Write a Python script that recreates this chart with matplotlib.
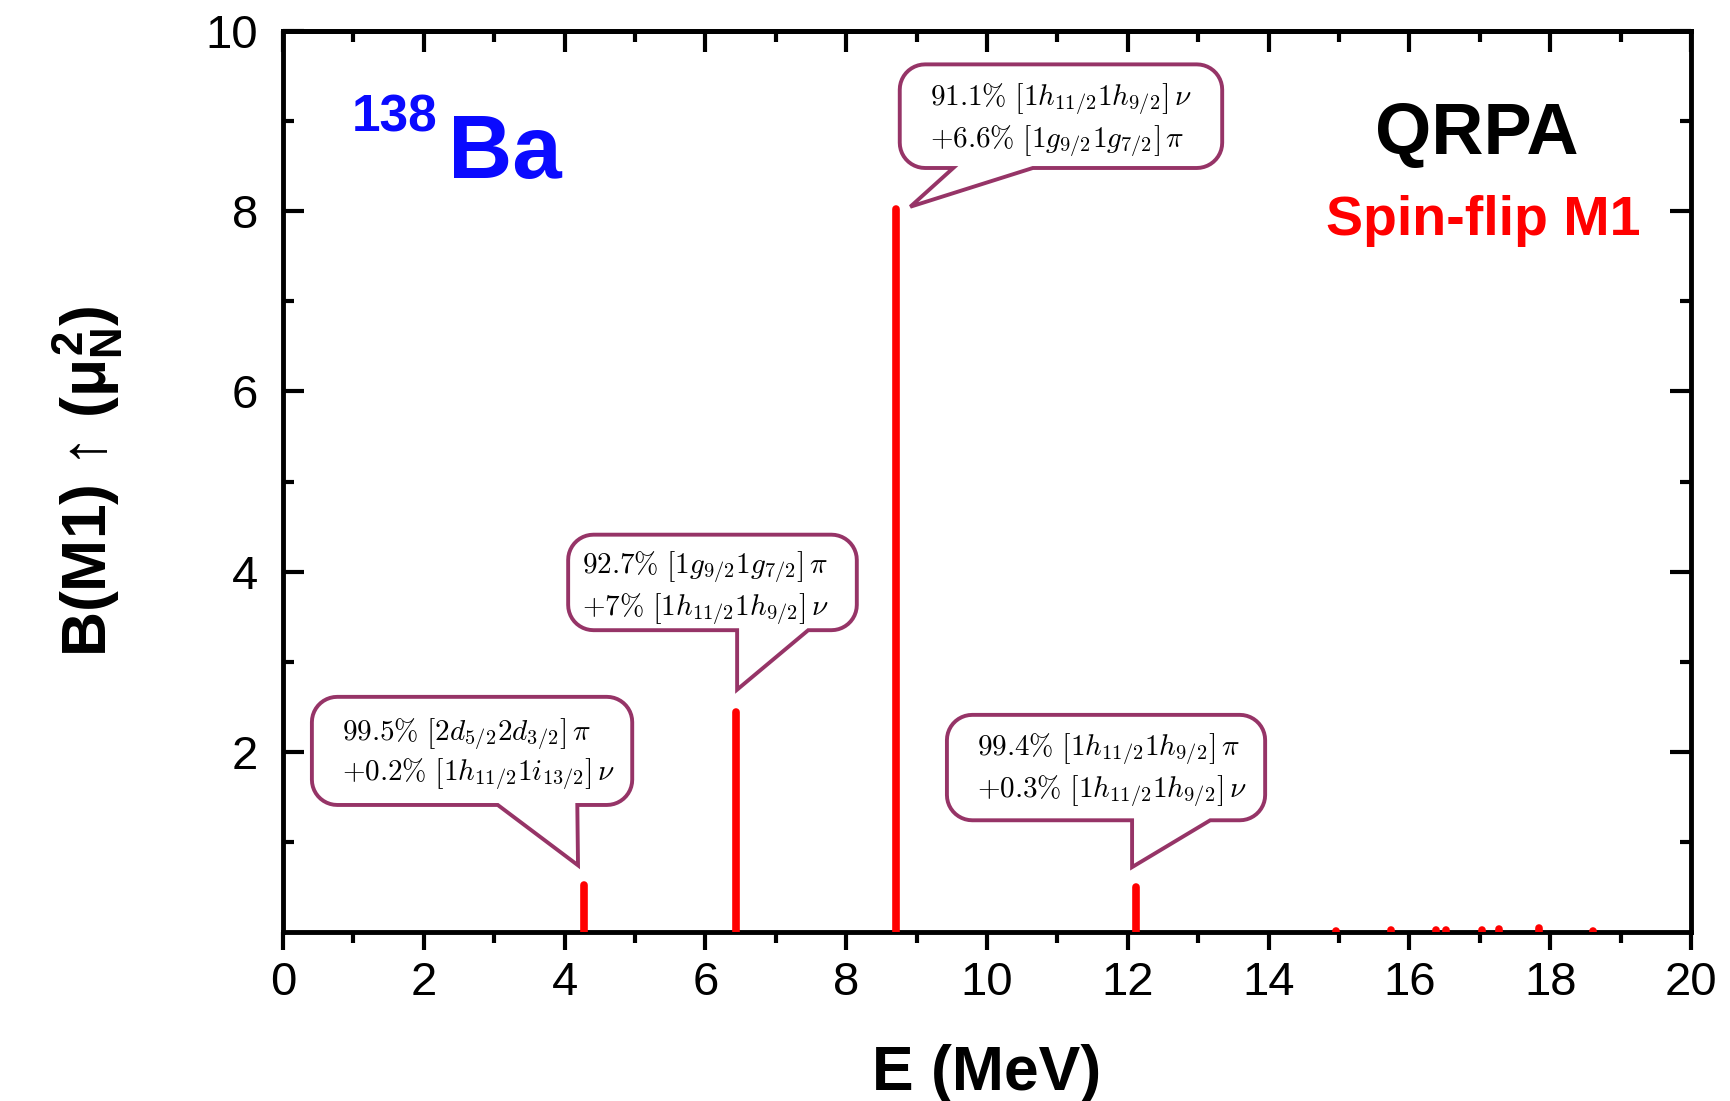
import numpy as np
import matplotlib
matplotlib.use('Agg')
import matplotlib.pyplot as plt
from matplotlib.patches import Polygon
from matplotlib.ticker import MultipleLocator, FixedLocator

# spin-flip M1 strength, 138Ba QRPA
energy = [4.27, 6.43, 8.70, 12.12, 14.96, 15.74, 16.38, 16.52, 17.03, 17.27, 17.84, 18.61]
strength = [0.52, 2.44, 8.03, 0.50, 0.015, 0.02, 0.02, 0.02, 0.02, 0.03, 0.04, 0.015]

x_ticks = [0, 2, 4, 6, 8, 10, 12, 14, 16, 18, 20]
y_ticks = [2, 4, 6, 8, 10]

callout_text = [
    (r'$\mathsf{91.1\%}\ \left[1h_{11/2}1h_{9/2}\right]\,\nu$',
     r'$\mathsf{+6.6\%}\ \left[1g_{9/2}1g_{7/2}\right]\,\pi$'),
    (r'$\mathsf{92.7\%}\ \left[1g_{9/2}1g_{7/2}\right]\,\pi$',
     r'$\mathsf{+7\%}\ \left[1h_{11/2}1h_{9/2}\right]\,\nu$'),
    (r'$\mathsf{99.5\%}\ \left[2d_{5/2}2d_{3/2}\right]\,\pi$',
     r'$\mathsf{+0.2\%}\ \left[1h_{11/2}1i_{13/2}\right]\,\nu$'),
    (r'$\mathsf{99.4\%}\ \left[1h_{11/2}1h_{9/2}\right]\,\pi$',
     r'$\mathsf{+0.3\%}\ \left[1h_{11/2}1h_{9/2}\right]\,\nu$'),
]
# box: left, right, bottom, top, tail base x0, x1, tip x, tip y, text x, line1 y, line2 y
callout_box = [
    (8.76, 13.34, 8.48, 9.63, 9.52, 10.65, 8.91, 8.05, 9.19, 9.23, 8.77),
    (4.05, 8.15, 3.35, 4.41, 6.45, 7.46, 6.45, 2.69, 4.25, 4.04, 3.57),
    (0.41, 4.96, 1.41, 2.61, 3.05, 4.18, 4.19, 0.74, 0.84, 2.19, 1.74),
    (9.43, 13.95, 1.24, 2.41, 12.06, 13.17, 12.06, 0.72, 9.86, 2.02, 1.55),
]

plt.rcParams['font.family'] = ['Liberation Sans', 'DejaVu Sans']
plt.rcParams['mathtext.fontset'] = 'custom'
plt.rcParams['mathtext.rm'] = 'Liberation Sans:bold'
plt.rcParams['mathtext.it'] = 'Liberation Sans:bold'
plt.rcParams['mathtext.bf'] = 'Liberation Sans:bold'

purple = '#963467'


def bubble(ax, left, right, bottom, top, b0, b1, tx, ty, rx=0.36, ry=0.28):
    pts = [(tx, ty), (b1, bottom)]
    corners = [((right - rx, bottom + ry), -90, 0),
               ((right - rx, top - ry), 0, 90),
               ((left + rx, top - ry), 90, 180),
               ((left + rx, bottom + ry), 180, 270)]
    for (cx, cy), a0, a1 in corners:
        a = np.radians(np.linspace(a0, a1, 12))
        pts += list(zip(cx + rx * np.cos(a), cy + ry * np.sin(a)))
    pts.append((b0, bottom))
    ax.add_patch(Polygon(pts, closed=True, fc='white', ec=purple, lw=2.8,
                         joinstyle='miter', zorder=4))


fig = plt.figure(figsize=(17.3, 11.01), dpi=100)
ax = fig.add_axes([0.1636, 0.1535, 0.8139, 0.8183])

ax.vlines(energy, 0, strength, colors='red', lw=5.5, capstyle='round', zorder=3)

ax.set_xlim(0, 20)
ax.set_ylim(0, 10)
ax.set_xticks(x_ticks)
ax.set_xticklabels([str(v) for v in x_ticks])
ax.xaxis.set_minor_locator(MultipleLocator(1))
ax.yaxis.set_major_locator(FixedLocator(y_ticks))
ax.set_yticklabels([str(v) for v in y_ticks])
ax.yaxis.set_minor_locator(FixedLocator([1, 3, 5, 7, 9]))

for s in ax.spines.values():
    s.set_linewidth(3.5)

ax.tick_params(axis='x', which='major', direction='out', length=13, width=3,
               labelsize=34, pad=8)
ax.tick_params(axis='x', which='minor', direction='out', length=8, width=3)
ax.tick_params(axis='y', which='major', direction='in', length=15, width=3,
               labelsize=34, pad=18, right=True)
ax.tick_params(axis='y', which='minor', direction='in', length=8, width=3, right=True)

top = ax.secondary_xaxis('top')
top.set_xticks(x_ticks)
top.xaxis.set_minor_locator(MultipleLocator(1))
top.tick_params(which='major', direction='in', length=15, width=3, labeltop=False)
top.tick_params(which='minor', direction='in', length=8, width=3)
top.spines['top'].set_linewidth(3.5)

ax.set_xlabel('E (MeV)', fontsize=45, fontweight='bold', labelpad=28)
ax.set_ylabel(r'B(M1) ↑ ($\mu_{N}^{2}$)', fontsize=45, fontweight='bold', labelpad=58)

for (l1, l2), b in zip(callout_text, callout_box):
    left, right, bottom, topy, b0, b1, tx, ty, xt, y1, y2 = b
    bubble(ax, left, right, bottom, topy, b0, b1, tx, ty)
    for line, yy in ((l1, y1), (l2, y2)):
        ax.text(xt, yy, line, fontsize=21, ha='left', va='center',
                math_fontfamily='cm', zorder=5)

ax.text(0.97, 8.88, '138', fontsize=37, fontweight='bold', color='#0a0aff',
        ha='left', va='baseline')
ax.text(2.34, 8.37, 'Ba', fontsize=64, fontweight='bold', color='#0a0aff',
        ha='left', va='baseline')
ax.text(16.95, 8.63, 'QRPA', fontsize=52, fontweight='bold', color='black',
        ha='center', va='baseline')
ax.text(17.05, 7.74, 'Spin-flip M1', fontsize=40, fontweight='bold', color='#ff0000',
        ha='center', va='baseline')

plt.savefig('out.png', dpi=100)
